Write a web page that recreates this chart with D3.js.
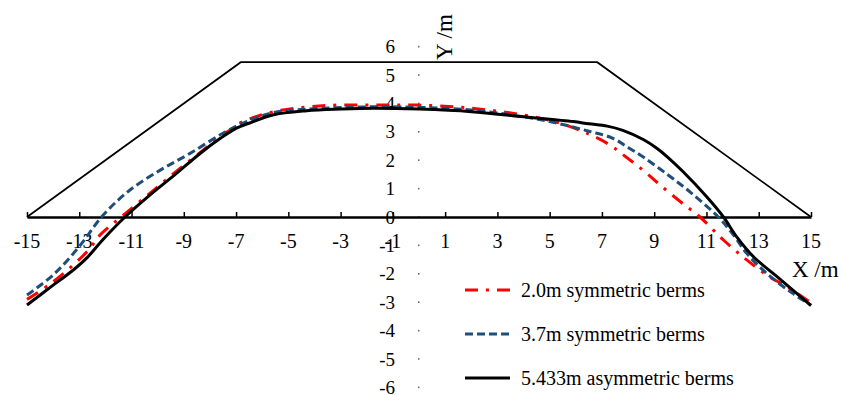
<!DOCTYPE html>
<html lang="en">
<head>
  <meta charset="UTF-8">
  <title>Slip surfaces under different berms</title>
  <script src="https://d3js.org/d3.v7.min.js"></script>
  <style>
    body {
      margin: 0;
      background: #fff;
      font-family: "Liberation Serif", "Times New Roman", serif;
    }
    text { fill: #000; }
  </style>
</head>
<body>
  <div id="chart"></div>
  <script>
    // tick values
    const xTicks = [-15, -13, -11, -9, -7, -5, -3, -1, 1, 3, 5, 7, 9, 11, 13, 15];
    const yTicks = [6, 5, 4, 3, 2, 1, 0, -1, -2, -3, -4, -5, -6];

    // embankment outline (toe, crest, crest, toe)
    const embankment = [[-15, 0], [-6.82, 5.45], [6.82, 5.45], [15, 0]];

    // slip surfaces
    const berm20 = [
      [-15, -2.9], [-14, -2.28], [-12.7, -1.22], [-12.2, -0.63], [-11.4, 0], [-10.3, 0.83],
      [-9.3, 1.6], [-8.25, 2.36], [-7.6, 2.83], [-7.2, 3.08], [-6.8, 3.33], [-5.6, 3.7],
      [-3.7, 3.92], [-1.75, 3.94], [0, 3.94], [2, 3.83], [4, 3.59], [5.4, 3.3], [6.5, 2.92],
      [7.3, 2.54], [7.8, 2.2], [8.7, 1.55], [9.2, 1.15], [10, 0.54], [10.75, 0],
      [11.65, -0.81], [12.54, -1.51], [13.4, -2.1], [14.07, -2.45], [15, -3.02]
    ];
    const berm37 = [
      [-15, -2.75], [-14, -2.04], [-13, -1.04], [-12.1, 0.05], [-11.06, 0.95], [-9.9, 1.65],
      [-8.76, 2.24], [-7.5, 2.95], [-6.6, 3.36], [-5.6, 3.67], [-4.3, 3.8], [-1.75, 3.88],
      [0, 3.86], [2, 3.77], [4, 3.53], [5.3, 3.3], [6.5, 3.02], [7.4, 2.78], [8, 2.45],
      [8.6, 2.1], [9.5, 1.5], [10.4, 0.86], [11.45, 0], [12.03, -0.63], [12.54, -1.28],
      [13.3, -1.98], [14.3, -2.69], [15, -3.1]
    ];
    const berm5433 = [
      [-15, -3.1], [-14, -2.4], [-13.3, -1.92], [-12.7, -1.43], [-12.1, -0.8], [-11.25, 0],
      [-10.3, 0.77], [-9.35, 1.48], [-8.4, 2.22], [-7.6, 2.77], [-7, 3.12], [-6.5, 3.3],
      [-5.6, 3.59], [-4.3, 3.74], [-3, 3.8], [-1.75, 3.83], [0, 3.8], [2, 3.71], [4, 3.53],
      [5.9, 3.36], [6.5, 3.28], [7.2, 3.2], [7.8, 3.05], [8.6, 2.72], [9.1, 2.42], [9.5, 2.12],
      [10.1, 1.6], [11, 0.72], [11.65, 0], [12.15, -0.69], [12.8, -1.4], [13.7, -2.1],
      [14.6, -2.8], [15, -3.12]
    ];

    const seriesNames = ["2.0m symmetric berms", "3.7m symmetric berms", "5.433m asymmetric berms"];
    const seriesData = [berm20, berm37, berm5433];
    const seriesColors = ["#ff0000", "#1f4e79", "#000000"];
    const seriesDash = ["13,8,3,8", "8,4", null];

    const width = 842, height = 395;
    const xScale = d3.scaleLinear().domain([-15, 15]).range([27, 811]);
    const yScale = d3.scaleLinear().domain([-6, 6]).range([387.4, 46.6]);

    const svg = d3.select("#chart").append("svg").attr("width", width).attr("height", height);

    const line = d3.line()
      .x(d => xScale(d[0]))
      .y(d => yScale(d[1]));

    // embankment
    svg.append("path")
      .datum(embankment)
      .attr("d", line)
      .attr("fill", "none")
      .attr("stroke", "#000")
      .attr("stroke-width", 1.7);

    // y axis: no line, only small dots at the ticks
    svg.append("g").selectAll("rect")
      .data(yTicks)
      .join("rect")
      .attr("x", xScale(0) - 1)
      .attr("y", d => yScale(d) - 0.8)
      .attr("width", 1.5)
      .attr("height", 1.6)
      .attr("fill", "#666");

    svg.append("g").selectAll("text")
      .data(yTicks)
      .join("text")
      .attr("x", 395)
      .attr("y", d => yScale(d))
      .attr("dy", "0.35em")
      .attr("text-anchor", "end")
      .style("font-size", "19px")
      .text(d => d);

    // x axis at y = 0 with ticks pointing up
    const xAxis = d3.axisTop(xScale).tickValues(xTicks).tickSize(5).tickSizeOuter(0).tickFormat("");
    const gx = svg.append("g").attr("transform", `translate(0, ${yScale(0)})`).call(xAxis);
    gx.select(".domain").attr("stroke-width", 2.5);
    gx.selectAll(".tick line").attr("stroke-width", 1.5);

    svg.append("g").selectAll("text")
      .data(xTicks)
      .join("text")
      .attr("x", d => xScale(d))
      .attr("y", yScale(0) + 31)
      .attr("text-anchor", "middle")
      .style("font-size", "20px")
      .text(d => d);

    // slip surfaces
    svg.append("g").selectAll("path")
      .data(seriesData)
      .join("path")
      .attr("d", d3.line().x(d => xScale(d[0])).y(d => yScale(d[1])).curve(d3.curveCatmullRom.alpha(0.5)))
      .attr("fill", "none")
      .attr("stroke", (d, i) => seriesColors[i])
      .attr("stroke-width", 3)
      .attr("stroke-dasharray", (d, i) => seriesDash[i]);

    // axis titles
    svg.append("text")
      .attr("x", 792)
      .attr("y", 277)
      .style("font-size", "23px")
      .text("X /m");
    svg.append("text")
      .attr("transform", "translate(452, 60) rotate(-90)")
      .style("font-size", "23px")
      .text("Y /m");

    // legend
    const legend = svg.append("g").selectAll("g")
      .data(seriesNames)
      .join("g")
      .attr("transform", (d, i) => `translate(465, ${290 + i * 44})`);

    legend.append("line")
      .attr("x1", 0).attr("x2", 45)
      .attr("stroke", (d, i) => seriesColors[i])
      .attr("stroke-width", 3)
      .attr("stroke-dasharray", (d, i) => seriesDash[i]);

    legend.append("text")
      .attr("x", 56)
      .attr("dy", "0.35em")
      .style("font-size", "20px")
      .text(d => d);
  </script>
</body>
</html>
